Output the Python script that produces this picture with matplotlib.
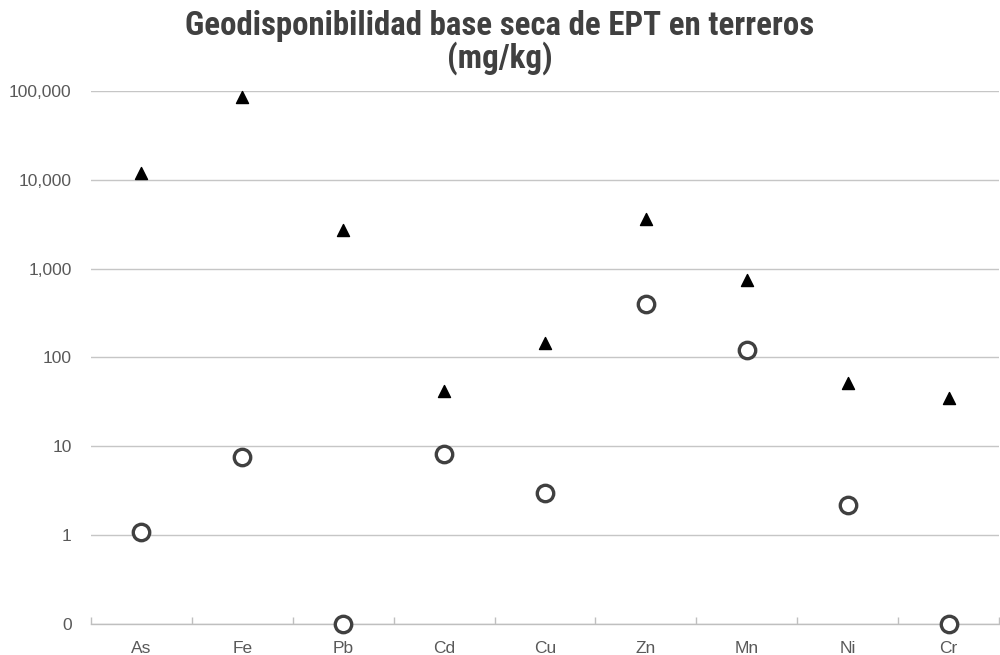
import matplotlib
matplotlib.use("Agg")
import matplotlib.pyplot as plt
from matplotlib.ticker import FuncFormatter, FixedLocator

categories = ["As", "Fe", "Pb", "Cd", "Cu", "Zn", "Mn", "Ni", "Cr"]
total_values = [12000, 85000, 2750, 42, 147, 3650, 740, 51, 35]
geo_values = [1.08, 7.6, 0.1, 8.2, 3.0, 405, 121, 2.2, 0.1]
y_ticks = [0.1, 1, 10, 100, 1000, 10000, 100000]

plt.rcParams['font.family'] = ['Liberation Sans', 'DejaVu Sans']

fig = plt.figure(figsize=(10, 6.55), dpi=100)
ax = fig.add_axes([0.091, 0.0473, 0.908, 0.8138])

x = list(range(len(categories)))
ax.scatter(x, total_values, marker='^', s=75, color='black', zorder=3, clip_on=False)
ax.scatter(x, geo_values, marker='o', s=140, facecolor='white', edgecolor='#404040',
           linewidths=2.4, zorder=3, clip_on=False)

ax.set_yscale('log')
ax.set_ylim(0.1, 100000)
ax.yaxis.set_major_locator(FixedLocator(y_ticks))
ax.yaxis.set_minor_locator(FixedLocator([]))
ax.yaxis.set_major_formatter(FuncFormatter(lambda v, p: f"{v:,.0f}"))
ax.grid(axis='y', color='#c6c6c6', linewidth=1.0)
ax.set_axisbelow(True)

ax.set_xlim(-0.5, len(categories) - 0.5)
ax.set_xticks(x)
ax.set_xticklabels(categories)
ax.set_xticks([i + 0.5 for i in range(-1, len(categories))], minor=True)
ax.tick_params(axis='x', which='major', length=0, pad=12, labelsize=12.5, labelcolor='#595959')
ax.tick_params(axis='x', which='minor', length=5, direction='in', color='#bfbfbf', width=1)
ax.tick_params(axis='y', length=0, pad=14, labelsize=12.5, labelcolor='#595959')

for s in ['top', 'right', 'left']:
    ax.spines[s].set_visible(False)
ax.spines['bottom'].set_color('#bfbfbf')
ax.spines['bottom'].set_linewidth(1.0)

fam = ['Roboto Condensed', 'Liberation Sans']
fig.text(0.5, 0.960, "Geodisponibilidad base seca de EPT en terreros", ha='center', va='center',
         fontsize=23.7, fontweight='bold', color='#404040', family=fam)
fig.text(0.5, 0.912, "(mg/kg)", ha='center', va='center',
         fontsize=23.7, fontweight='bold', color='#404040', family=fam)

fig.savefig("out.png", dpi=100, facecolor='white')
